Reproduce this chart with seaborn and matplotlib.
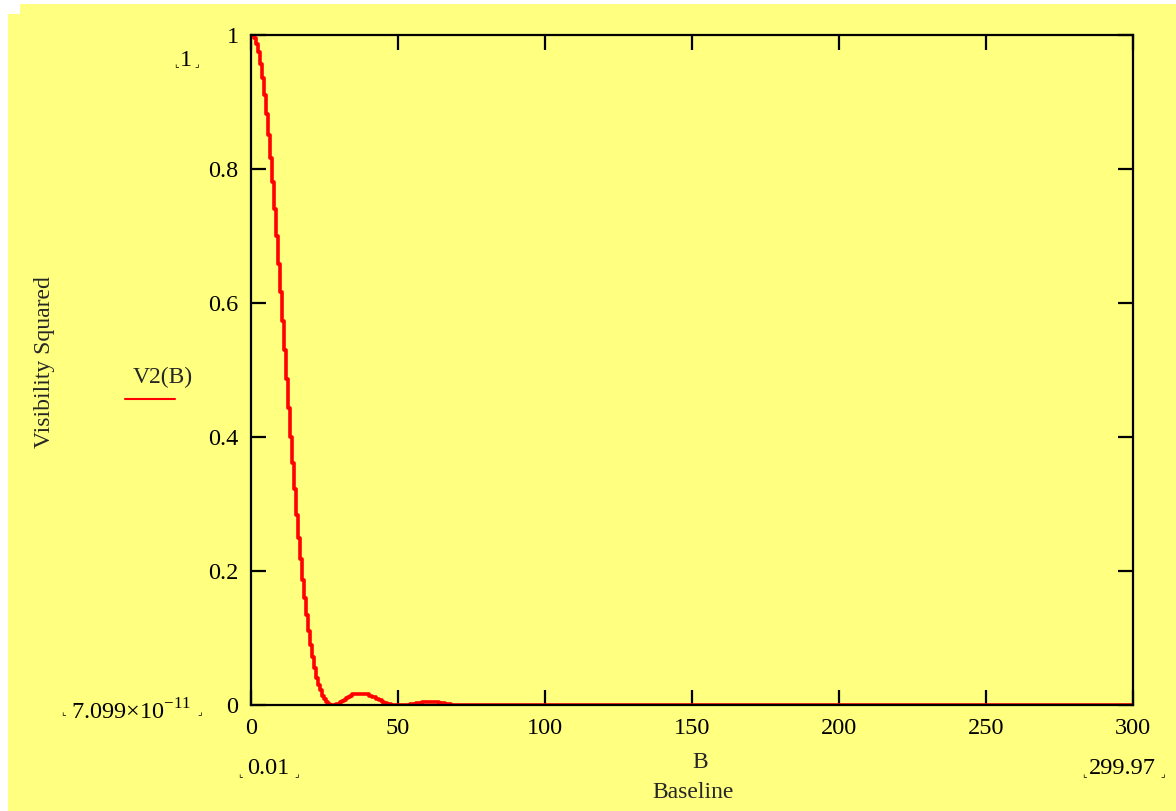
import matplotlib
matplotlib.use('Agg')
import matplotlib.pyplot as plt
import seaborn as sns
import pandas as pd
from matplotlib.patches import Rectangle

# values (baseline B, squared visibility)
baseline = [0.0, 0.68, 1.36, 2.04, 2.72, 3.40, 4.08, 4.76, 5.44, 6.12, 6.80, 7.48,
            8.16, 8.84, 9.52, 10.20, 10.88, 11.56, 12.24, 12.93, 13.61, 14.29, 14.97,
            15.65, 16.33, 17.01, 17.69, 18.37, 19.05, 19.73, 20.41, 21.09, 21.77,
            22.45, 23.13, 23.81, 24.49, 25.17, 25.85, 26.5, 27.2, 27.9, 28.6, 29.3,
            29.9, 30.6, 31.3, 32.0, 32.7, 33.3, 34.0, 34.7, 35.7, 37.1, 38.4, 39.8,
            40.8, 41.8, 42.9, 43.9, 44.9, 45.9, 46.9, 48.0, 50.0, 53.0, 55.0, 57.0,
            59.0, 61.0, 63.0, 65.0, 67.0, 69.0, 72.0, 80.0, 100.0, 150.0, 200.0,
            250.0, 299.97]
v2 = [1.0, 1.0, 0.996, 0.987, 0.975, 0.957, 0.936, 0.910, 0.882, 0.851, 0.816, 0.781,
      0.740, 0.700, 0.658, 0.616, 0.573, 0.530, 0.487, 0.443, 0.400, 0.361, 0.322,
      0.284, 0.250, 0.218, 0.187, 0.160, 0.134, 0.110, 0.090, 0.072, 0.055,
      0.041, 0.030, 0.022, 0.014, 0.009, 0.004, 0.001, 0.0, 0.0, 0.0003, 0.001,
      0.002, 0.004, 0.006, 0.008, 0.010, 0.012, 0.014, 0.016, 0.0165, 0.0165, 0.0165,
      0.016, 0.014, 0.012, 0.009, 0.007, 0.005, 0.003, 0.001, 0.0003, 0.0, 0.0,
      0.0015, 0.003, 0.004, 0.0042, 0.004, 0.003, 0.0015, 0.0005, 0.0001, 0.0,
      0.0, 0.0, 0.0, 0.0, 0.0]
x_ticks = [0, 50, 100, 150, 200, 250, 300]
y_ticks = [0, 0.2, 0.4, 0.6, 0.8, 1]

df = pd.DataFrame({'B': baseline, 'V2': v2})

sns.set_theme(style='white')
plt.rcParams['font.family'] = ['Liberation Serif', 'DejaVu Sans']

W, H = 1176, 811
yellow = '#ffff80'
fig = plt.figure(figsize=(W / 100, H / 100), dpi=100, facecolor='white')
fig.patches.append(Rectangle((8 / W, 0), 1 - 8 / W, 1 - 4 / H, transform=fig.transFigure,
                             facecolor=yellow, edgecolor='none', zorder=-10))
fig.patches.append(Rectangle((0, 1 - 14 / H), 20 / W, 14 / H, transform=fig.transFigure,
                             facecolor='white', edgecolor='none', zorder=-9))

ax = fig.add_axes([251 / W, 1 - 705 / H, (1133 - 251) / W, (705 - 35) / H])
ax.set_facecolor(yellow)

sns.lineplot(data=df, x='B', y='V2', ax=ax, color='#ff0000', linewidth=2.6,
             drawstyle='steps-mid', estimator=None, sort=False, legend=False)

ax.set_xlim(0, 300)
ax.set_ylim(0, 1)
ax.set_xticks(x_ticks)
ax.set_xticklabels([str(t) for t in x_ticks])
ax.set_yticks(y_ticks)
ax.set_yticklabels(['0', '0.2', '0.4', '0.6', '0.8', '1'])
ax.set_xlabel('')
ax.set_ylabel('')
for s in ax.spines.values():
    s.set_color('black')
    s.set_linewidth(1.6)
ax.tick_params(direction='in', length=11, width=1.6, color='black', labelsize=17.5,
               labelcolor='black', top=True, right=True, bottom=True, left=True, pad=9)


def px(x, y):
    return x / W, 1 - y / H


def marked(x, y, s, lx, rx, my, size=17.5):
    fig.text(*px(x, y), s, ha='center', va='center', fontsize=size, color='black')
    fig.text(*px(lx, my), '\u231e', ha='center', va='center', fontsize=7,
             color='black', family=['DejaVu Sans'])
    fig.text(*px(rx, my), '\u231f', ha='center', va='center', fontsize=7,
             color='black', family=['DejaVu Sans'])


marked(186, 60, '1', 176, 197, 64)
marked(131, 712, '7.099\u00d710$^{\\mathregular{\u221211}}$', 63, 200, 712)
marked(268, 768, '0.01', 240, 297, 774)
marked(1122, 768, '299.97', 1084, 1163, 774)

fig.text(*px(700, 762), 'B', ha='center', va='center', fontsize=17)
fig.text(*px(693, 793), 'Baseline', ha='center', va='center', fontsize=17)
fig.text(*px(45, 362), 'Visibility Squared', ha='center', va='center', fontsize=17,
         rotation=90)
fig.text(*px(163, 377), 'V2(B)', ha='center', va='center', fontsize=17)
fig.add_artist(plt.Line2D([125 / W, 175 / W], [1 - 399 / H, 1 - 399 / H],
                          transform=fig.transFigure, color='#ff0000', linewidth=1.5))

fig.savefig('out.png', dpi=100, facecolor='white')
